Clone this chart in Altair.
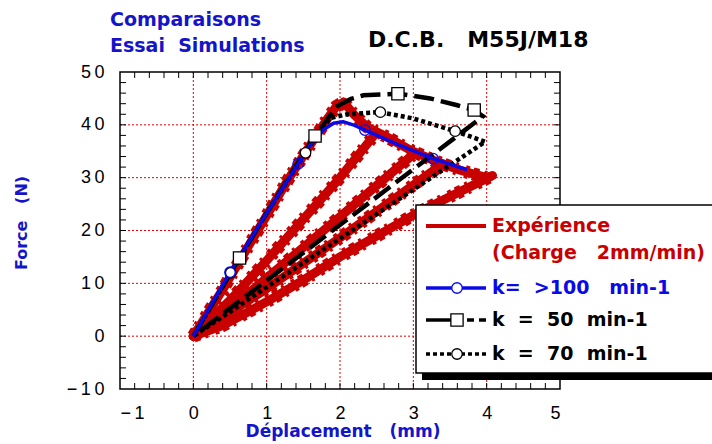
import altair as alt
import pandas as pd

# ---------------------------------------------------------------- data
# Experimental DCB curve (load/unload cycles), displacement in mm, force in N
exp_load_x = [0, 0.4, 0.9, 1.3, 1.6, 1.8, 1.95, 2.05]
exp_load_y = [0, 8.8, 20.5, 29.8, 36.3, 40.6, 43.5, 44.3]
exp_env_x = [2.05, 2.2, 2.37, 2.64, 2.96, 3.27, 3.64, 4.0, 4.08]
exp_env_y = [44.3, 41.8, 39.6, 37.7, 35.2, 33.3, 31.4, 30.0, 30.4]
exp_un1_x = [0, 0.5, 1.0, 2.0, 2.5]
exp_un1_y = [0, 6.8, 14.3, 30.0, 38.6]
exp_un2_x = [0, 0.5, 1.0, 2.0, 2.98]
exp_un2_y = [0, 5.2, 11.0, 22.6, 34.2]
exp_un3_x = [0, 1.0, 2.0, 3.4]
exp_un3_y = [0, 9.0, 18.6, 32.6]
exp_un4_x = [0, 0.4, 1.0, 1.5, 2.0, 3.05, 4.05]
exp_un4_y = [0, 2.0, 6.5, 10.6, 15.0, 23.3, 30.2]

# Simulation k > 100 min-1
k100_x = [0, 0.5, 1.0, 1.43, 1.6, 1.77, 1.91, 2.04, 2.2, 2.34, 2.8, 3.27, 3.73]
k100_y = [0, 12.1, 23.3, 32.6, 36.3, 39.0, 40.3, 40.6, 39.9, 39.0, 36.2, 33.6, 31.5]
k100_mx = [0.5, 1.43, 2.34, 3.27]
k100_my = [12.1, 32.6, 39.0, 33.6]

# Simulation k = 50 min-1 (loading, then unloading to the origin)
k50_x = [0, 0.63, 1.0, 1.5, 1.66, 1.85, 1.96, 2.15, 2.32, 2.79, 3.23, 3.6, 3.83, 3.95, 0]
k50_y = [0, 14.8, 23.3, 34.5, 37.9, 41.5, 43.5, 44.9, 45.6, 45.9, 45.0, 43.7, 42.8, 41.6, 0]
k50_mx = [0.63, 1.66, 2.79, 3.83]
k50_my = [14.8, 37.9, 45.9, 42.8]

# Simulation k = 70 min-1 (loading, then unloading to the origin)
k70_x = [0, 0.51, 1.0, 1.53, 1.75, 1.87, 2.1, 2.55, 3.0, 3.57, 3.98, 3.85, 0]
k70_y = [0, 12.0, 23.3, 34.7, 39.3, 41.3, 42.0, 42.4, 41.2, 38.8, 36.8, 35.6, 0]
k70_mx = [0.51, 1.53, 2.55, 3.57]
k70_my = [12.0, 34.7, 42.4, 38.8]

# Axis structure
x_labels = [-1, 0, 1, 2, 3, 4, 5]
y_labels = [-10, 0, 10, 20, 30, 40, 50]
grid_x = [0, 1, 2, 3, 4]
grid_y = [0, 10, 20, 30, 40]
minor_x = [round(-1 + 0.2 * i, 1) for i in range(1, 30)]
minor_y = [-10 + 2 * i for i in range(1, 30)]

NB = "\u00a0"
legend_texts = ["Expérience", "(Charge" + NB * 3 + "2mm/min)",
                "k=" + NB * 2 + ">100" + NB * 3 + "min-1",
                "k" + NB * 2 + "=" + NB * 2 + "50" + NB * 2 + "min-1",
                "k" + NB * 2 + "=" + NB * 2 + "70" + NB * 2 + "min-1"]

# ---------------------------------------------------------------- style
W, H = 440, 317
RED = "#c80000"
BLUE = "#0a0ae6"
TBLUE = "#1414c8"
FONT = "Liberation Sans"
BFONT = "DejaVu Sans"

xs = alt.Scale(domain=[-1, 5], nice=False, zero=False)
ys = alt.Scale(domain=[-10, 50], nice=False, zero=False)
ax_x = alt.Axis(values=x_labels, labelPadding=15, title=None,
                labelExpr="join(split(datum.label, ''), '\u2009')")
ax_y = alt.Axis(values=y_labels, labelPadding=16, title=None,
                labelExpr="join(split(datum.label, ''), '\u2009')")


def X(field="x"):
    return alt.X(f"{field}:Q", scale=xs, axis=ax_x)


def Y(field="y"):
    return alt.Y(f"{field}:Q", scale=ys, axis=ax_y)


def curve(parts):
    rows = []
    for seg, (px, py) in enumerate(parts):
        for i, (a, b) in enumerate(zip(px, py)):
            rows.append({"x": a, "y": b, "seg": seg, "i": i})
    return pd.DataFrame(rows)


one = pd.DataFrame({"a": [0]})

# ---------------------------------------------------------------- grid & frame
grid_v = alt.Chart(pd.DataFrame({"x": grid_x})).mark_rule(
    color="#e00000", strokeDash=[2, 2], strokeWidth=1
).encode(x=X(), y=alt.value(0), y2=alt.value(H))
grid_h = alt.Chart(pd.DataFrame({"y": grid_y})).mark_rule(
    color="#e00000", strokeDash=[2, 2], strokeWidth=1
).encode(y=Y(), x=alt.value(0), x2=alt.value(W))

tick_style = dict(color="black", strokeWidth=1)
ticks_b = alt.Chart(pd.DataFrame({"x": minor_x})).mark_rule(**tick_style).encode(
    x=X(), y=alt.value(H), y2=alt.value(H - 6))
ticks_t = alt.Chart(pd.DataFrame({"x": minor_x})).mark_rule(**tick_style).encode(
    x=X(), y=alt.value(0), y2=alt.value(6))
ticks_l = alt.Chart(pd.DataFrame({"y": minor_y})).mark_rule(**tick_style).encode(
    y=Y(), x=alt.value(0), x2=alt.value(6))
ticks_r = alt.Chart(pd.DataFrame({"y": minor_y})).mark_rule(**tick_style).encode(
    y=Y(), x=alt.value(W), x2=alt.value(W - 6))

frame = alt.Chart(one).mark_rect(filled=False, stroke="black", strokeWidth=1.5).encode(
    x=alt.value(0), x2=alt.value(W), y=alt.value(0), y2=alt.value(H))

# ---------------------------------------------------------------- curves
exp_df = curve([(exp_load_x, exp_load_y), (exp_env_x, exp_env_y),
                (exp_un1_x, exp_un1_y), (exp_un2_x, exp_un2_y),
                (exp_un3_x, exp_un3_y), (exp_un4_x, exp_un4_y)])
exp_line = alt.Chart(exp_df).mark_line(
    color=RED, strokeWidth=9, strokeJoin="round", strokeCap="round"
).encode(x=X(), y=Y(), detail="seg:N", order="i:Q")
# serrated outer edge of the noisy measured band
exp_edge = alt.Chart(exp_df).mark_line(
    color=RED, strokeWidth=13, strokeDash=[6, 5, 3, 8, 4, 4], strokeJoin="round"
).encode(x=X(), y=Y(), detail="seg:N", order="i:Q")

k70_line = alt.Chart(curve([(k70_x, k70_y)])).mark_line(
    color="black", strokeWidth=4.5, strokeDash=[4, 3]
).encode(x=X(), y=Y(), order="i:Q")
k70_pts = alt.Chart(pd.DataFrame({"x": k70_mx, "y": k70_my})).mark_point(
    shape="circle", size=110, filled=True, fill="white", stroke="black",
    strokeWidth=1.3, opacity=1
).encode(x=X(), y=Y())

k50_line = alt.Chart(curve([(k50_x, k50_y)])).mark_line(
    color="black", strokeWidth=4.5, strokeDash=[20, 7]
).encode(x=X(), y=Y(), order="i:Q")
k50_pts = alt.Chart(pd.DataFrame({"x": k50_mx, "y": k50_my})).mark_point(
    shape="square", size=150, filled=True, fill="white", stroke="black",
    strokeWidth=1.3, opacity=1
).encode(x=X(), y=Y())

k100_line = alt.Chart(curve([(k100_x, k100_y)])).mark_line(
    color=BLUE, strokeWidth=3.5, strokeJoin="round"
).encode(x=X(), y=Y(), order="i:Q")
k100_pts = alt.Chart(pd.DataFrame({"x": k100_mx, "y": k100_my})).mark_point(
    shape="circle", size=110, filled=False, stroke=BLUE, strokeWidth=1.3, opacity=1
).encode(x=X(), y=Y())

# ---------------------------------------------------------------- legend box
LX, LY = 296, 133
shadow = alt.Chart(one).mark_rect(color="black").encode(
    x=alt.value(LX + 6), x2=alt.value(LX + 310), y=alt.value(LY + 6), y2=alt.value(LY + 175))
box = alt.Chart(one).mark_rect(fill="white", stroke="black", strokeWidth=1.5).encode(
    x=alt.value(LX), x2=alt.value(LX + 305), y=alt.value(LY), y2=alt.value(LY + 168))

leg_y = [LY + 21, LY + 48, LY + 83, LY + 115, LY + 149]
sx0, sx1, smid = LX + 10, LX + 70, LX + 41

leg_red = alt.Chart(one).mark_rule(color=RED, strokeWidth=4).encode(
    x=alt.value(sx0), x2=alt.value(sx1), y=alt.value(leg_y[0]))
leg_blue = alt.Chart(one).mark_rule(color=BLUE, strokeWidth=3.5).encode(
    x=alt.value(sx0), x2=alt.value(sx1), y=alt.value(leg_y[2]))
leg_blue_pt = alt.Chart(one).mark_point(
    shape="circle", size=110, filled=True, fill="white", stroke=BLUE, strokeWidth=1.3, opacity=1
).encode(x=alt.value(smid), y=alt.value(leg_y[2]))
leg_k50a = alt.Chart(one).mark_rule(color="black", strokeWidth=3.5).encode(
    x=alt.value(sx0), x2=alt.value(smid), y=alt.value(leg_y[3]))
leg_k50b = alt.Chart(one).mark_rule(color="black", strokeWidth=3.5, strokeDash=[7, 5]).encode(
    x=alt.value(smid + 10), x2=alt.value(sx1), y=alt.value(leg_y[3]))
leg_k50_pt = alt.Chart(one).mark_point(
    shape="square", size=150, filled=True, fill="white", stroke="black", strokeWidth=1.3, opacity=1
).encode(x=alt.value(smid), y=alt.value(leg_y[3]))
leg_k70 = alt.Chart(one).mark_rule(color="black", strokeWidth=3.5, strokeDash=[4, 3]).encode(
    x=alt.value(sx0), x2=alt.value(sx1), y=alt.value(leg_y[4]))
leg_k70_pt = alt.Chart(one).mark_point(
    shape="circle", size=110, filled=True, fill="white", stroke="black", strokeWidth=1.3, opacity=1
).encode(x=alt.value(smid), y=alt.value(leg_y[4]))

leg_df = pd.DataFrame({"t": legend_texts, "py": leg_y,
                       "c": [RED, RED, BLUE, "black", "black"]})
leg_text = alt.Chart(leg_df).mark_text(
    align="left", baseline="middle", font=BFONT, fontSize=19, fontWeight="bold"
).encode(x=alt.value(LX + 76), y=alt.Y("py:Q", scale=None, axis=None),
         text="t:N", color=alt.Color("c:N", scale=None, legend=None))

# ---------------------------------------------------------------- titles
def label(txt, x, y, size, color, angle=0, align="left"):
    return alt.Chart(pd.DataFrame({"t": [txt]})).mark_text(
        align=align, baseline="middle", font=BFONT, fontSize=size,
        fontWeight="bold", color=color, angle=angle
    ).encode(x=alt.value(x), y=alt.value(y), text="t:N")


t1 = label("Comparaisons", -10, -52, 19, TBLUE)
t2 = label("Essai" + NB * 2 + "Simulations", -10, -26, 19, TBLUE)
t3 = label("D.C.B." + NB * 3 + "M55J/M18", 248, -32, 22, "black")
tx = label("Déplacement" + NB * 3 + "(mm)", 223, 360, 17, TBLUE, align="center")
ty = label("Force" + NB * 3 + "(N)", -98, 151, 16, TBLUE, angle=270, align="center")

chart = alt.layer(
    grid_v, grid_h, ticks_b, ticks_t, ticks_l, ticks_r,
    exp_edge, exp_line, k70_line, k50_line, k100_line, k70_pts, k50_pts, k100_pts,
    frame, shadow, box, leg_red, leg_blue, leg_blue_pt, leg_k50a, leg_k50b,
    leg_k50_pt, leg_k70, leg_k70_pt, leg_text, t1, t2, t3, tx, ty
).properties(
    width=W, height=H,
    autosize=alt.AutoSizeParams(type="none"),
    padding={"left": 120, "top": 72, "right": 152, "bottom": 55},
).configure_view(stroke="transparent").configure_axis(
    domain=False, ticks=False, grid=False, labelFont=FONT, labelFontSize=18,
    labelColor="black"
)

chart.save("out.html", embed_options={"renderer": "svg", "actions": False})
